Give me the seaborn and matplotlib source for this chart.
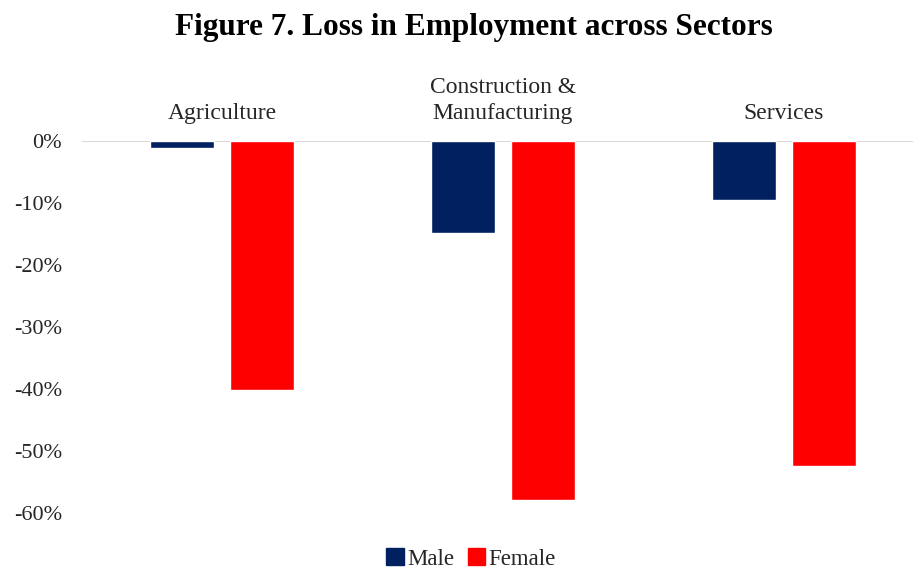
import pandas as pd
import seaborn as sns
import matplotlib.pyplot as plt
from matplotlib.ticker import PercentFormatter
from matplotlib.patches import Patch

# Data
sectors = ['Agriculture', 'Construction &\nManufacturing', 'Services']
male = [-0.012, -0.148, -0.095]
female = [-0.401, -0.579, -0.524]
groups = ['Male', 'Female']
colors = ['#002060', '#ff0000']

df = pd.DataFrame({
    'sector': sectors * 2,
    'group': ['Male'] * 3 + ['Female'] * 3,
    'value': male + female,
})

sns.set_style('white')
plt.rcParams['font.family'] = ['Liberation Serif', 'DejaVu Serif']
plt.rcParams['axes.unicode_minus'] = False

fig = plt.figure(figsize=(9.13, 5.71), dpi=100)
ax = fig.add_axes([81.5 / 913, 1 - 513 / 571, (913 - 81.5) / 913, (513 - 141) / 571])

sns.barplot(data=df, x='sector', y='value', hue='group', order=sectors,
            hue_order=groups, palette=colors, width=0.57, gap=0.2,
            saturation=1, ax=ax, legend=False)

ax.set_xlim(-0.5, -0.5 + 831.5 / 281)
ax.set_ylim(-0.6, 0)
ax.set_yticks([0, -0.1, -0.2, -0.3, -0.4, -0.5, -0.6])
ax.yaxis.set_major_formatter(PercentFormatter(1.0, decimals=0))
ax.xaxis.tick_top()
ax.tick_params(axis='both', length=0, colors='#262626')
ax.tick_params(axis='y', labelsize=16, pad=14)
ax.tick_params(axis='x', labelsize=17, pad=12)
for lbl in ax.get_xticklabels():
    lbl.set_linespacing(1.35)
ax.set_xlabel('')
ax.set_ylabel('')
for s in ax.spines.values():
    s.set_visible(False)
ax.axhline(0, color='#d9d9d9', lw=1.5, zorder=0)

fig.text(474 / 913, 1 - 28 / 571, 'Figure 7. Loss in Employment across Sectors',
         ha='center', va='center', fontsize=22.5, fontweight='bold', color='black')

handles = [Patch(color=c, label=g) for c, g in zip(colors, groups)]
fig.legend(handles=handles, loc='center', bbox_to_anchor=(471 / 913, 1 - 559 / 571),
           ncol=2, frameon=False, fontsize=16.5, handlelength=0.75, handleheight=0.75,
           handletextpad=0.15, columnspacing=0.6, labelcolor='#262626',
           borderpad=0.1)

fig.savefig('out.png', dpi=100)
